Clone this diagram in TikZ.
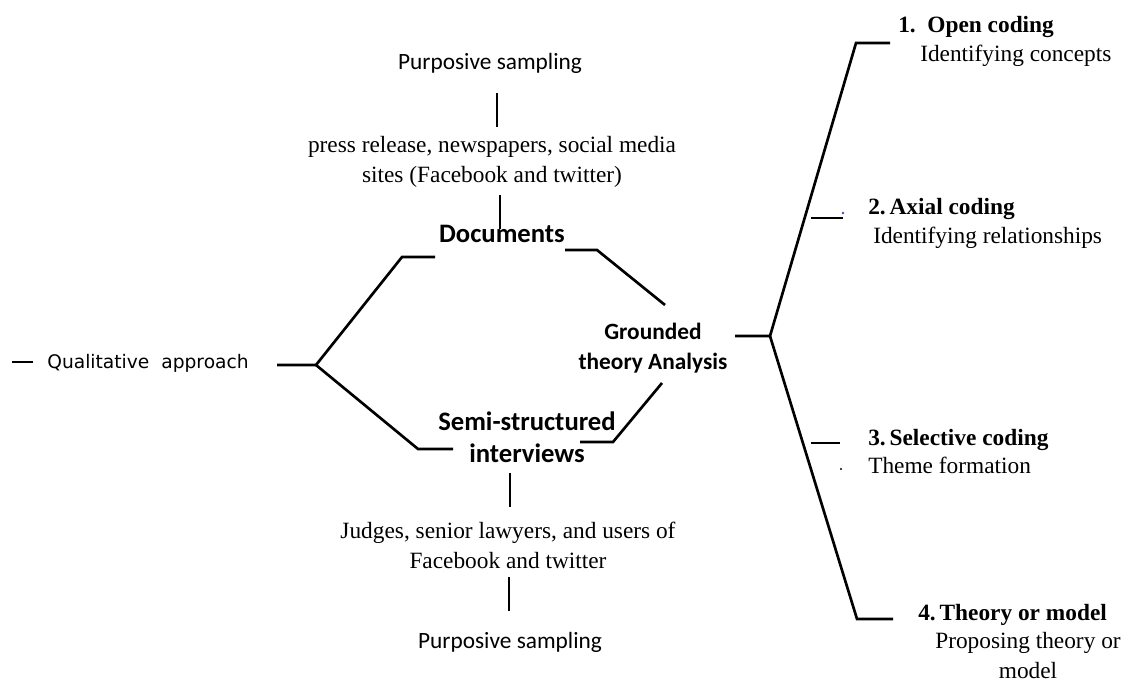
\documentclass[tikz,border=0pt]{standalone}
\usepackage{fontspec}
\setmainfont{Liberation Serif}
\newfontfamily\calib{Carlito}
\newfontfamily\dejav{DejaVu Sans}
\usetikzlibrary{calc}
\begin{document}
\begin{tikzpicture}[x=.75pt,y=-.75pt,
  br/.style={line width=2pt},
  sans/.style={font=\calib\fontsize{17.5}{20}\selectfont,align=center,inner sep=0pt},
  head/.style={font=\calib\bfseries\fontsize{20}{24}\selectfont,align=center,inner sep=0pt},
  grd/.style={font=\calib\bfseries\fontsize{17.5}{23}\selectfont,align=center,inner sep=0pt},
  ser/.style={font=\fontsize{17.5}{22.5}\selectfont,align=center,inner sep=0pt},
  code/.style={font=\bfseries\fontsize{17.5}{20}\selectfont,anchor=west,inner sep=0pt},
  desc/.style={font=\fontsize{17.5}{20}\selectfont,anchor=west,inner sep=0pt}]
\useasboundingbox (0,0) rectangle (1131,682);
% left part
\node[font=\dejav\fontsize{14}{16}\selectfont,inner sep=0pt] (qual) at (148,363) {Qualitative\ \ approach};
\coordinate (dash-a) at (12,362);
\coordinate (dash-b) at (33,362);
\draw[br] (dash-a)--(dash-b);
% documents branch
\node[sans] (ps1) at (490,63) {Purposive sampling};
\node[ser] (src1) at (492,162) {press release, newspapers, social media\\sites (Facebook and twitter)};
\node[head] (doc) at (502,234) {Documents};
% interviews branch
\node[head] (ssi) at (527,437) {Semi-structured\\interviews};
\node[ser] (src2) at (508,545) {Judges, senior lawyers, and users of\\Facebook and twitter};
\node[sans] (ps2) at (510,642) {Purposive sampling};
\node[grd] (gta) at (653,348) {Grounded\\theory Analysis};
% brackets
\coordinate (q-out) at (277,365);
\coordinate (j1) at (316,365);
\coordinate (d-in) at (402,257);
\coordinate (d-in2) at (435,257);
\coordinate (s-in) at (418,449);
\coordinate (s-in2) at (453,449);
\coordinate (d-out) at (565,250);
\coordinate (d-out2) at (597,250);
\coordinate (g-top) at (665,305);
\coordinate (s-out) at (580,442);
\coordinate (s-out2) at (613,442);
\coordinate (g-bot) at (662,383);
\draw[br] (q-out)--(j1)--(d-in)--(d-in2);
\draw[br] (j1)--(s-in)--(s-in2);
\draw[br] (d-out)--(d-out2)--(g-top);
\draw[br] (s-out)--(s-out2)--(g-bot);
\coordinate (t1a) at (497,93);
\coordinate (t1b) at (497,127);
\coordinate (t2a) at (500,195);
\coordinate (t2b) at (500,229);
\coordinate (t3a) at (510,473);
\coordinate (t3b) at (510,507);
\coordinate (t4a) at (509,577);
\coordinate (t4b) at (509,611);
\foreach \a/\b in {t1a/t1b,t2a/t2b,t3a/t3b,t4a/t4b}
  \draw[br] (\a)--(\b);
% coding steps
\node[code] (c1) at (898,27) {1.\ \ Open coding};
\node[desc] (d1) at (920,56) {Identifying concepts};
\node[code] (c2) at (868,209) {2.\,Axial coding};
\node[desc] (d2) at (873,238) {Identifying relationships};
\node[code] (c3) at (868,440) {3.\,Selective coding};
\node[desc] (d3) at (868,465) {Theme formation};
\node[code] (c4) at (918,615) {4.\,Theory or model};
\node[ser] (d4) at (1028,656) {Proposing theory or\\model};
\coordinate (g-out) at (735,336);
\coordinate (j2) at (770,336);
\coordinate (top) at (856,43);
\coordinate (top2) at (890,43);
\coordinate (bot) at (857,619);
\coordinate (bot2) at (893,619);
\draw[br] (g-out)--(j2)--(top)--(top2);
\draw[br] (j2)--(bot)--(bot2);
\coordinate (k2a) at (811,218);
\coordinate (k2b) at (843,218);
\coordinate (k3a) at (811,443);
\coordinate (k3b) at (840,443);
\draw[br] (k2a)--(k2b);
\draw[br] (k3a)--(k3b);
\fill[blue!40!gray] (843,213) circle (1pt);
\fill (841,469) circle (.8pt);
\end{tikzpicture}
\end{document}
